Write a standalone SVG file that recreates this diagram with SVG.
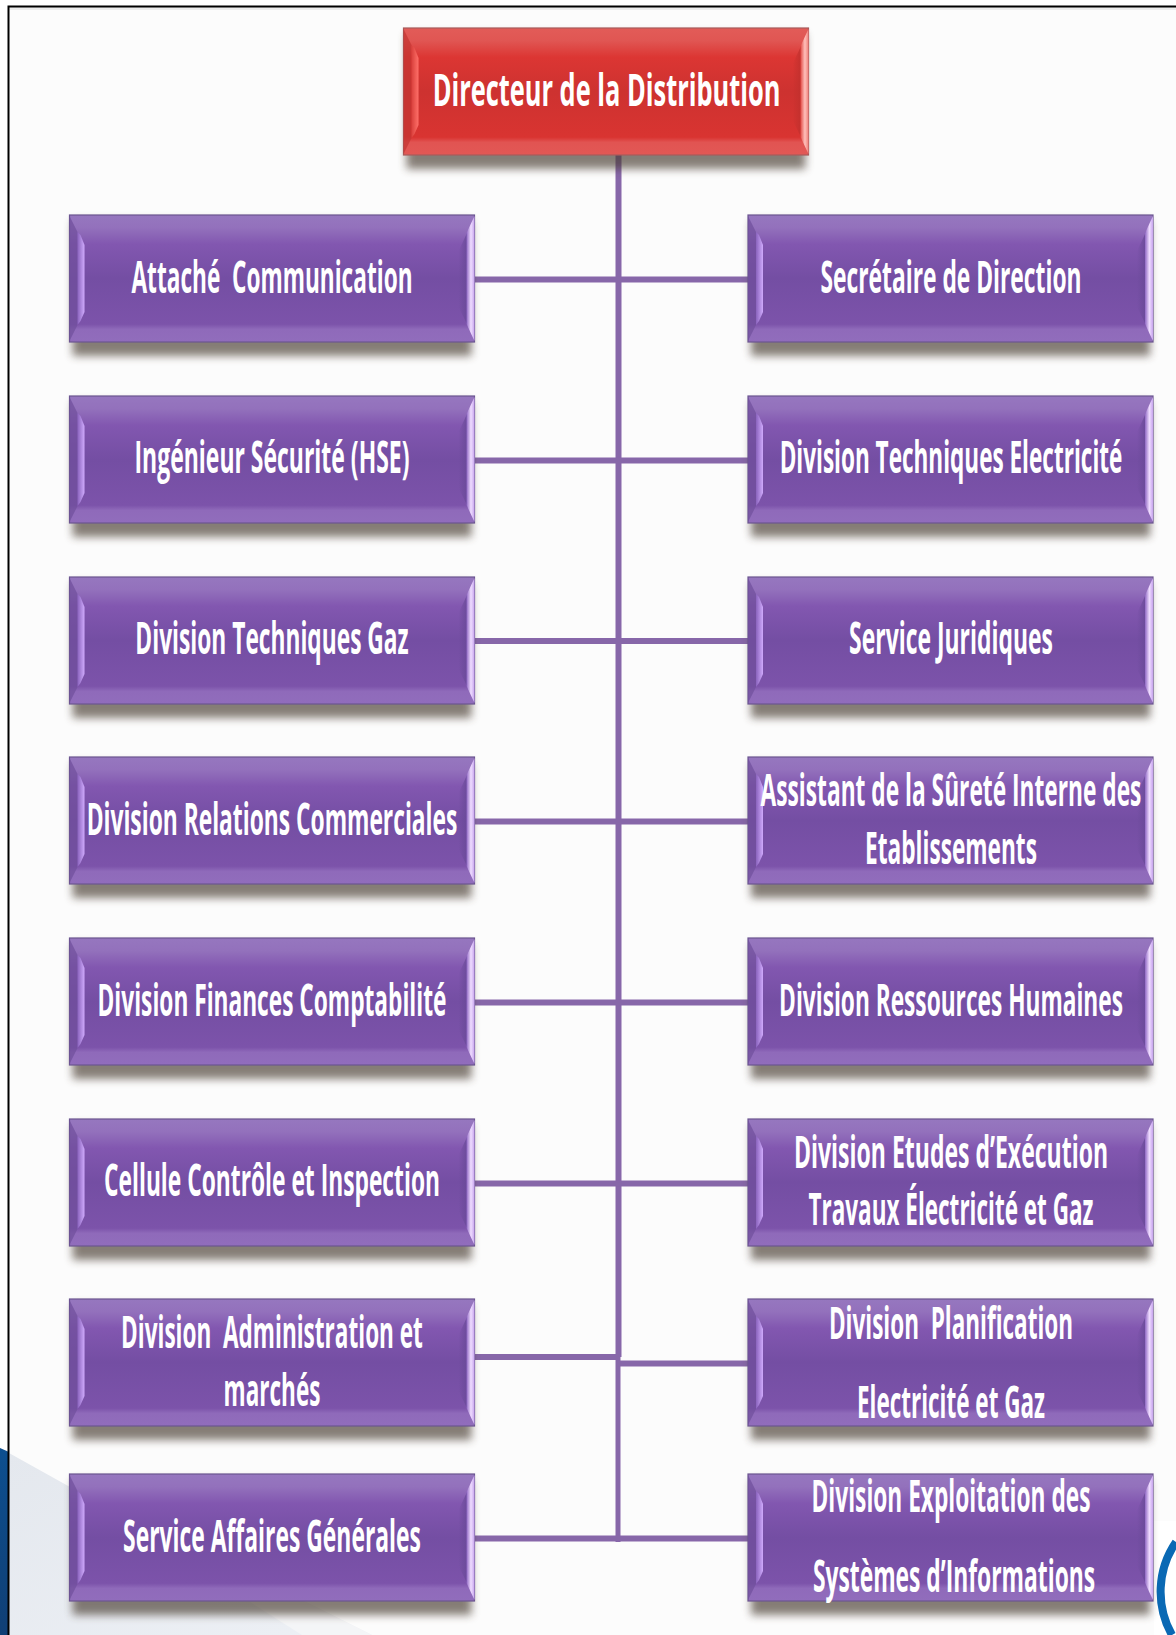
<svg xmlns="http://www.w3.org/2000/svg" width="1176" height="1635" viewBox="0 0 1176 1635">
<style>
.t{font-family:"Open Sans","Liberation Sans",sans-serif;font-size:44px;font-weight:700;fill:#fff;text-anchor:middle;white-space:pre}
.c{stroke:#8767a9;stroke-width:6;fill:none}
</style>
<defs>
<linearGradient id="pb" x1="0" y1="0" x2="0" y2="1">
<stop offset="0" stop-color="#9677bf"/><stop offset=".1" stop-color="#9371bc"/><stop offset=".23" stop-color="#8257b0"/><stop offset=".5" stop-color="#744ea3"/><stop offset=".86" stop-color="#7c53aa"/><stop offset=".9" stop-color="#8f6aba"/><stop offset="1" stop-color="#916dbc"/>
</linearGradient>
<linearGradient id="rb" x1="0" y1="0" x2="0" y2="1">
<stop offset="0" stop-color="#e25c58"/><stop offset=".1" stop-color="#e05653"/><stop offset=".23" stop-color="#dc3633"/><stop offset=".5" stop-color="#cd3230"/><stop offset=".86" stop-color="#d93431"/><stop offset=".9" stop-color="#e15452"/><stop offset="1" stop-color="#e25855"/>
</linearGradient>
<linearGradient id="pl" x1="0" y1="0" x2="1" y2="0"><stop offset="0" stop-color="#8a63bd"/><stop offset="1" stop-color="#cfaafc"/></linearGradient>
<linearGradient id="pr" x1="0" y1="0" x2="1" y2="0"><stop offset="0" stop-color="#9068c4"/><stop offset=".55" stop-color="#efdcff"/><stop offset="1" stop-color="#c7a4ee"/></linearGradient>
<linearGradient id="pd" x1="0" y1="0" x2="1" y2="0"><stop offset="0" stop-color="#6a4a99" stop-opacity="0"/><stop offset="1" stop-color="#6a4a99"/></linearGradient>
<linearGradient id="rl" x1="0" y1="0" x2="1" y2="0"><stop offset="0" stop-color="#d9403c"/><stop offset="1" stop-color="#ff6f68"/></linearGradient>
<linearGradient id="rr" x1="0" y1="0" x2="1" y2="0"><stop offset="0" stop-color="#e24b47"/><stop offset=".55" stop-color="#ffc0bb"/><stop offset="1" stop-color="#f0807a"/></linearGradient>
<linearGradient id="rd" x1="0" y1="0" x2="1" y2="0"><stop offset="0" stop-color="#c2302d" stop-opacity="0"/><stop offset="1" stop-color="#c2302d"/></linearGradient>
<linearGradient id="blue" x1="0" y1="0" x2="0" y2="1"><stop offset="0" stop-color="#0d4f8f"/><stop offset="1" stop-color="#103f75"/></linearGradient>
<linearGradient id="grey" x1="0" y1="0" x2="1" y2="1"><stop offset="0" stop-color="#e4e8ee"/><stop offset="1" stop-color="#edf0f5"/></linearGradient>
<filter id="sh" x="-5%" y="-10%" width="110%" height="130%"><feGaussianBlur stdDeviation="4.5"/></filter>
<filter id="soft" x="-20%" y="-5%" width="140%" height="110%"><feGaussianBlur stdDeviation=".6"/></filter>
<g id="box">
<rect x="3" y="6" width="399" height="135" fill="#4a3d30" opacity=".66" filter="url(#sh)"/>
<rect width="405" height="127" fill="url(#pb)" stroke="#6b5590" stroke-width="1.2"/>
<polygon points="0,1 8,17 8,110 0,126" fill="#6f4f9c" opacity=".7" filter="url(#soft)"/>
<polygon points="389,36 398,17 398,110 389,92" fill="url(#pd)"/>
<polygon points="8,17 11,20 15,30 15,97 11,106 8,110" fill="url(#pl)" filter="url(#soft)"/>
<polygon points="405,1 397,18 397,109 405,126" fill="url(#pr)" filter="url(#soft)"/>
</g>
<g id="boxr">
<rect x="3" y="6" width="399" height="135" fill="#4a3d30" opacity=".66" filter="url(#sh)"/>
<rect width="405" height="127" fill="url(#rb)" stroke="#a85a5a" stroke-width="1.2"/>
<polygon points="0,1 8,17 8,110 0,126" fill="#c43430" opacity=".7" filter="url(#soft)"/>
<polygon points="389,36 398,17 398,110 389,92" fill="url(#rd)"/>
<polygon points="8,17 11,20 15,30 15,97 11,106 8,110" fill="url(#rl)" filter="url(#soft)"/>
<polygon points="405,1 397,18 397,109 405,126" fill="url(#rr)" filter="url(#soft)"/>
</g>
</defs>

<rect width="1176" height="1635" fill="#fff"/>
<rect x="9" y="6" width="1167" height="1629" fill="#fcfcfc"/>
<rect x="9" y="7" width="1167" height="3" fill="#ececec"/>
<polygon points="0,1448 9,1452 9,1635 0,1635" fill="url(#blue)"/>
<polygon points="9,1453 70,1487 306,1602 372,1635 9,1635" fill="url(#grey)"/>
<polygon points="250,1602 306,1602 372,1635 302,1635" fill="#f4f5f7"/>
<path d="M8.500 1635V6.500H1176" fill="none" stroke="#000" stroke-width="2"/>
<path d="M1176 1521H1154V1635H1176Z" fill="#fff"/>
<path d="M1176 1542A88 88 0 0 0 1172 1635" fill="none" stroke="#0a69b4" stroke-width="8"/>

<g id="connectors">
<path class="c" d="M618.500 155V1357"/>
<path class="c" d="M618 1357V1542" style="stroke-width:5"/>
<path class="c" d="M475 279.500H748M475 460.500H748M475 641H748M475 821.500H748M475 1002.500H748M475 1183.500H748M475 1357H618M618 1363.500H748M475 1538.500H748"/>
</g>

<g id="n-directeur"><use href="#boxr" x="403.500" y="28"/><text class="t" transform="matrix(.56 0 0 1 606.500 106)" textLength="621" lengthAdjust="spacingAndGlyphs">Directeur de la Distribution</text></g>

<g id="n-attache"><use href="#box" x="69.500" y="215"/><text class="t" transform="matrix(.56 0 0 1 272 293)" textLength="502" lengthAdjust="spacingAndGlyphs">Attaché  Communication</text></g>
<g id="n-secretaire"><use href="#box" x="748" y="215"/><text class="t" transform="matrix(.56 0 0 1 951 293)" textLength="466" lengthAdjust="spacingAndGlyphs">Secrétaire de Direction</text></g>

<g id="n-ingenieur"><use href="#box" x="69.500" y="396"/><text class="t" transform="matrix(.56 0 0 1 272 473)" textLength="491" lengthAdjust="spacingAndGlyphs">Ingénieur Sécurité (HSE)</text></g>
<g id="n-tech-elec"><use href="#box" x="748" y="396"/><text class="t" transform="matrix(.56 0 0 1 951 473)" textLength="612" lengthAdjust="spacingAndGlyphs">Division Techniques Electricité</text></g>

<g id="n-tech-gaz"><use href="#box" x="69.500" y="577"/><text class="t" transform="matrix(.56 0 0 1 272 654)" textLength="488" lengthAdjust="spacingAndGlyphs">Division Techniques Gaz</text></g>
<g id="n-juridiques"><use href="#box" x="748" y="577"/><text class="t" transform="matrix(.56 0 0 1 951 654)" textLength="364" lengthAdjust="spacingAndGlyphs">Service Juridiques</text></g>

<g id="n-relations"><use href="#box" x="69.500" y="757"/><text class="t" transform="matrix(.56 0 0 1 272 835)" textLength="662" lengthAdjust="spacingAndGlyphs">Division Relations Commerciales</text></g>
<g id="n-surete"><use href="#box" x="748" y="757"/><text class="t" transform="matrix(.56 0 0 1 951 806)" textLength="680" lengthAdjust="spacingAndGlyphs">Assistant de la Sûreté Interne des</text><text class="t" transform="matrix(.56 0 0 1 951 864)" textLength="307" lengthAdjust="spacingAndGlyphs">Etablissements</text></g>

<g id="n-finances"><use href="#box" x="69.500" y="938"/><text class="t" transform="matrix(.56 0 0 1 272 1016)" textLength="623" lengthAdjust="spacingAndGlyphs">Division Finances Comptabilité</text></g>
<g id="n-rh"><use href="#box" x="748" y="938"/><text class="t" transform="matrix(.56 0 0 1 951 1016)" textLength="614" lengthAdjust="spacingAndGlyphs">Division Ressources Humaines</text></g>

<g id="n-cellule"><use href="#box" x="69.500" y="1119"/><text class="t" transform="matrix(.56 0 0 1 272 1196)" textLength="600" lengthAdjust="spacingAndGlyphs">Cellule Contrôle et Inspection</text></g>
<g id="n-etudes"><use href="#box" x="748" y="1119"/><text class="t" transform="matrix(.56 0 0 1 951 1168)" textLength="561" lengthAdjust="spacingAndGlyphs">Division Etudes d’Exécution</text><text class="t" transform="matrix(.56 0 0 1 951 1225)" textLength="509" lengthAdjust="spacingAndGlyphs">Travaux Électricité et Gaz</text></g>

<g id="n-admin"><use href="#box" x="69.500" y="1299"/><text class="t" transform="matrix(.56 0 0 1 272 1348)" textLength="539" lengthAdjust="spacingAndGlyphs">Division  Administration et</text><text class="t" transform="matrix(.56 0 0 1 272 1406)" textLength="173" lengthAdjust="spacingAndGlyphs">marchés</text></g>
<g id="n-planif"><use href="#box" x="748" y="1299"/><text class="t" transform="matrix(.56 0 0 1 951 1339)" textLength="436" lengthAdjust="spacingAndGlyphs">Division  Planification</text><text class="t" transform="matrix(.56 0 0 1 951 1418)" textLength="336" lengthAdjust="spacingAndGlyphs">Electricité et Gaz</text></g>

<g id="n-affaires"><use href="#box" x="69.500" y="1474"/><text class="t" transform="matrix(.56 0 0 1 272 1552)" textLength="532" lengthAdjust="spacingAndGlyphs">Service Affaires Générales</text></g>
<g id="n-exploitation"><use href="#box" x="748" y="1474"/><text class="t" transform="matrix(.56 0 0 1 951 1512)" textLength="498" lengthAdjust="spacingAndGlyphs">Division Exploitation des</text><text class="t" transform="matrix(.56 0 0 1 954 1592)" textLength="504" lengthAdjust="spacingAndGlyphs">Systèmes d’Informations</text></g>
</svg>
